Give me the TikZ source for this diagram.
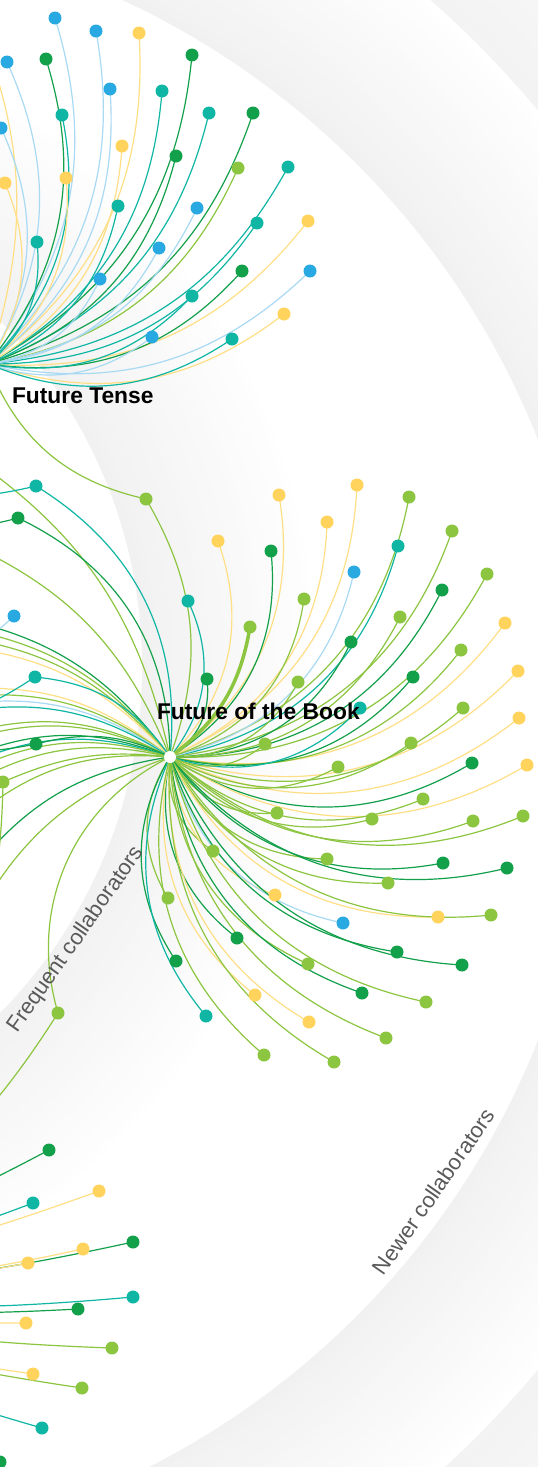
\documentclass[tikz,border=0pt]{standalone}
\usepackage{fontspec}
\setmainfont{Liberation Sans}
\definecolor{cB}{HTML}{29A9E1}
\definecolor{cT}{HTML}{10B6A4}
\definecolor{cD}{HTML}{13A04B}
\definecolor{cL}{HTML}{8CC540}
\definecolor{cY}{HTML}{FFD35C}
\definecolor{lB}{HTML}{A8DAF3}
\definecolor{lT}{HTML}{10B6A4}
\definecolor{lD}{HTML}{13A04B}
\definecolor{lL}{HTML}{8CC540}
\definecolor{lY}{HTML}{FFDF85}
\tikzset{
  pdot/.style={circle,inner sep=0pt,minimum size=13pt,fill=c#1},
  lnk/.style={draw=l#1,line width=1.2pt},
  bandlbl/.style={anchor=base,rotate=55,text=black!65,font=\fontsize{22}{26}\selectfont},
  hublbl/.style={anchor=base west,text=black,font=\bfseries\fontsize{22.8}{26}\selectfont},
}
% nested disks: grey at radius #3 fading to white at #3+#4, peak grey #5 percent
\newcommand\graband[5]{%
  \foreach \k in {24,...,1}{%
    \pgfmathsetmacro\rb{#3+#4*\k/24}%
    \pgfmathsetmacro\pc{#5*(1-(\k-0.5)/24)}%
    \fill[black!\pc!white] (#1,#2) circle[radius=\rb];%
  }%
  \fill[white] (#1,#2) circle[radius=#3];}
\def\FTlist{55/18/B,96/31/B,139/33/Y,7/62/B,46/59/D,192/55/D,110/89/B,162/91/T,62/115/T,209/113/T,253/113/D,1/128/B,122/146/Y,176/156/D,238/168/L,288/167/T,5/183/Y,66/178/Y,118/206/T,197/208/B,308/221/Y,257/223/T,37/242/T,159/248/B,242/271/D,310/271/B,100/279/B,192/296/T,284/314/Y,152/337/B,232/339/T}
\def\FToff{-25/15/Y}
\def\FBlist{279/495/Y,357/485/Y,409/497/L,218/541/Y,271/551/D,327/522/Y,398/546/T,452/531/L,354/572/B,487/574/L,442/590/D,188/601/T,304/599/L,400/617/L,351/642/D,505/623/Y,461/650/L,207/679/D,298/682/L,413/677/D,518/671/Y,360/708/T,463/708/L,519/718/Y,265/744/L,411/743/L,472/763/D,527/765/Y,338/767/L,423/799/L,277/813/L,372/819/L,473/821/L,523/816/L,213/851/L,327/859/L,443/863/D,507/868/D,388/883/L,275/895/Y,168/898/L,343/923/B,438/917/Y,491/915/L,237/938/D,397/952/D,462/965/D,176/961/D,308/964/L,362/993/D,255/995/Y,426/1002/L,206/1016/T,309/1022/Y,386/1038/L,264/1055/L,334/1062/L}
\def\FBoff{-40/450/L,-40/540/L,-60/615/D,-60/625/L,-60/635/L,-60/645/Y,-50/690/Y,-50/698/L,-50/706/B,-50/714/T,-40/735/L,-40/742/L,-40/760/D,-40/768/T,-40/776/L,-40/790/L,-30/820/L,-30/875/D,-30/930/L}
\def\LHlist{49/1150/D,99/1191/Y,33/1203/T,133/1242/D,83/1249/Y,28/1263/Y,133/1297/T,78/1309/D,26/1323/Y,112/1348/L,33/1374/Y,82/1388/L,42/1428/T,0/1462/D}
\begin{document}
\begin{tikzpicture}[x=1pt,y=1pt]
\useasboundingbox (0,0) rectangle (538,-1467);
\begin{scope}
\clip (0,0) rectangle (538,-1467);
\fill[white] (0,0) rectangle (538,-1467);
% background rings
\graband{-220}{-740}{985}{230}{5}
\graband{-220}{-740}{815}{170}{5.5}
\graband{-350}{-667}{492}{180}{5.5}
% hubs
\coordinate (FT) at (-12,-364);
\coordinate (FB) at (170,-757);
\coordinate (LH) at (-300,-1290);
% shared dots
\coordinate (s1) at (146,-499);
\coordinate (s2) at (36,-486);
\coordinate (s3) at (18,-518);
\coordinate (s4) at (14,-616);
\coordinate (s5) at (35,-677);
\coordinate (s6) at (36,-744);
\coordinate (s7) at (3,-782);
\coordinate (s8) at (58,-1013);
\coordinate (s9) at (250,-627);
\coordinate (o2) at (-40,-497);
\coordinate (o3) at (-40,-528);
\coordinate (o4) at (-30,-650);
\coordinate (o5) at (-30,-712);
\coordinate (o6) at (-40,-752);
% lines
\foreach \x/\y/\col [count=\i] in \FBoff {\coordinate (fbo\i) at (\x,-\y); \draw[lnk=\col] (FB) to[bend right=22] (fbo\i);}
\foreach \x/\y/\col [count=\i] in \FToff {\coordinate (fto\i) at (\x,-\y); \draw[lnk=\col] (FT) to[bend right=20] (fto\i);}
\foreach \x/\y/\col [count=\i] in \FTlist {\coordinate (ft\i) at (\x,-\y); \draw[lnk=\col] (FT) to[bend right=28] (ft\i);}
\foreach \x/\y/\col [count=\i] in \FBlist {\coordinate (fb\i) at (\x,-\y); \draw[lnk=\col] (FB) to[bend right=32] (fb\i);}
\foreach \x/\y/\col [count=\i] in \LHlist {\coordinate (lh\i) at (\x,-\y); \draw[lnk=\col] (LH) to[bend right=6] (lh\i);}
\draw[lnk=L] (FT) to[bend right=28] (s1);
\draw[lnk=L] (FB) to[bend right=25] (s1);
\draw[lnk=T] (FB) to[bend right=32] (s2);
\draw[lnk=T] (s2) to[bend left=5] (o2);
\draw[lnk=D] (FB) to[bend right=32] (s3);
\draw[lnk=D] (s3) to[bend left=5] (o3);
\draw[lnk=B] (s4) to[bend left=5] (o4);
\draw[lnk=T] (FB) to[bend right=25] (s5);
\draw[lnk=T] (s5) to[bend left=5] (o5);
\draw[lnk=D] (FB) to[bend right=20] (s6);
\draw[lnk=D] (s6) to[bend left=5] (o6);
\draw[lnk=L] (FB) to[bend right=15] (s7);
\draw[lnk=L] (LH) to[bend right=30] (s7);
\draw[lnk=L] (FB) to[bend right=40] (s8);
\draw[lnk=L] (LH) to[bend right=20] (s8);
\draw[lnk=L,line width=3.5pt] (FB) to[bend right=22] (s9);
% dots
\foreach \x/\y/\col [count=\i] in \FTlist {\node[pdot=\col] (ftd\i) at (ft\i) {};}
\foreach \x/\y/\col [count=\i] in \FBlist {\node[pdot=\col] (fbd\i) at (fb\i) {};}
\foreach \x/\y/\col [count=\i] in \LHlist {\node[pdot=\col] (lhd\i) at (lh\i) {};}
\node[pdot=L] (sd1) at (s1) {};
\node[pdot=T] (sd2) at (s2) {};
\node[pdot=D] (sd3) at (s3) {};
\node[pdot=B] (sd4) at (s4) {};
\node[pdot=T] (sd5) at (s5) {};
\node[pdot=D] (sd6) at (s6) {};
\node[pdot=L] (sd7) at (s7) {};
\node[pdot=L] (sd8) at (s8) {};
\node[pdot=L] (sd9) at (s9) {};
\node[circle,fill=white,inner sep=0pt,minimum size=12pt] (FBhub) at (FB) {};
% labels
\node[hublbl] (lft) at (8.5,-403) {Future Tense};
\node[hublbl] (lfb) at (153.5,-719) {Future of the Book};
\node[bandlbl] (lfreq) at (81,-943) {Frequent collaborators};
\node[bandlbl] (lnew) at (440,-1196) {Newer collaborators};
\end{scope}
\end{tikzpicture}
\end{document}
